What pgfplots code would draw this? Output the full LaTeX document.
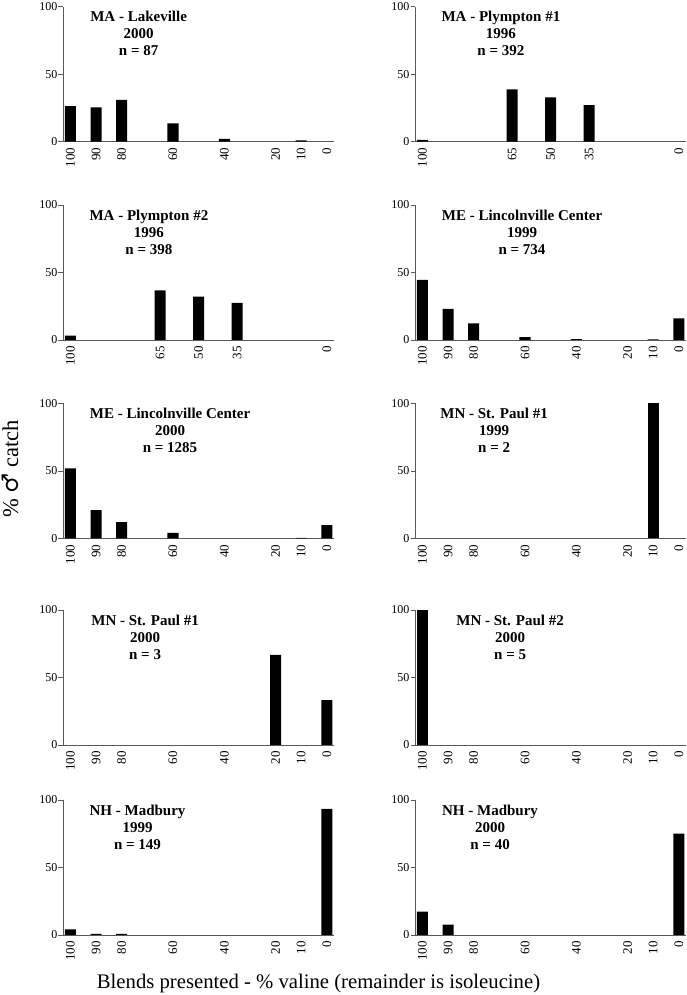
\documentclass[border=0pt]{standalone}
\usepackage{fontspec}
\setmainfont{Liberation Serif}
\newfontfamily\symfont{DejaVu Serif}
\usepackage{pgfplots}
\pgfplotsset{compat=1.18}
\tikzset{ttl/.style={anchor=north, align=center, font=\bfseries\fontsize{15}{17}\selectfont, inner sep=0pt, yshift=-4.5pt}}
\pgfplotsset{
 panel/.style={
  scale only axis, width=271pt, height=135pt, anchor=south west,
  xmin=-2.8, xmax=102.9, x dir=reverse, ymin=0, ymax=100,
  axis lines*=left, axis line style={draw=black!65, line width=0.9pt},
  ytick={0,50,100}, tick align=outside, major tick length=4.5pt,
  ytick style={draw=black!65, line width=0.7pt},
  xtick style={draw=none},
  xtick={100,90,80,60,40,20,10,0},
  xticklabel style={rotate=90, anchor=east, font=\fontsize{13}{13}\selectfont, inner sep=1.5pt},
  yticklabel style={font=\fontsize{12}{12}\selectfont, inner sep=1pt},
  /pgf/number format/assume math mode=true,
  ybar, bar width=4.3, clip=false,
 },
 bk/.style={fill=black, draw=none},
}
\begin{document}
\begin{tikzpicture}
\path[use as bounding box] (0pt,0pt) rectangle (687pt,995pt);
% Row 1
\begin{axis}[panel, at={(63pt,853.3pt)}]
\addplot[bk] coordinates {(100,26.4) (90,25.5) (80,30.9) (60,13.6) (40,2) (10,1)};
\node[ttl] at (axis description cs:0.279,1) {MA - Lakeville\\2000\\n = 87};
\end{axis}
\begin{axis}[panel, at={(415pt,853.3pt)}, xtick={100,65,50,35,0}]
\addplot[bk] coordinates {(100,1.3) (65,38.8) (50,32.9) (35,27)};
\node[ttl] at (axis description cs:0.317,1) {MA - Plympton \#1\\1996\\n = 392};
\end{axis}
% Row 2
\begin{axis}[panel, at={(63pt,655pt)}, xtick={100,65,50,35,0}]
\addplot[bk] coordinates {(100,3.2) (65,36.8) (50,32.1) (35,27.4)};
\node[ttl] at (axis description cs:0.317,1) {MA - Plympton \#2\\1996\\n = 398};
\end{axis}
\begin{axis}[panel, at={(415pt,655pt)}]
\addplot[bk] coordinates {(100,44.6) (90,23) (80,12.3) (60,2.2) (40,0.7) (10,0.5) (0,16)};
\node[ttl] at (axis description cs:0.395,1) {ME - Lincolnville Center\\1999\\n = 734};
\end{axis}
% Row 3
\begin{axis}[panel, at={(63pt,456.5pt)}]
\addplot[bk] coordinates {(100,51.9) (90,21) (80,12.1) (60,4.2) (10,0.5) (0,9.9)};
\node[ttl] at (axis description cs:0.395,1) {ME - Lincolnville Center\\2000\\n = 1285};
\end{axis}
\begin{axis}[panel, at={(415pt,456.5pt)}]
\addplot[bk] coordinates {(10,100)};
\node[ttl] at (axis description cs:0.292,1) {MN - St. Paul \#1\\1999\\n = 2};
\end{axis}
% Row 4
\begin{axis}[panel, at={(63pt,250pt)}]
\addplot[bk] coordinates {(20,66.7) (0,33.3)};
\node[ttl] at (axis description cs:0.303,1) {MN - St. Paul \#1\\2000\\n = 3};
\end{axis}
\begin{axis}[panel, at={(415pt,250pt)}]
\addplot[bk] coordinates {(100,100)};
\node[ttl] at (axis description cs:0.351,1) {MN - St. Paul \#2\\2000\\n = 5};
\end{axis}
% Row 5
\begin{axis}[panel, at={(63pt,60pt)}]
\addplot[bk] coordinates {(100,4.2) (90,0.8) (80,0.8) (0,93.5)};
\node[ttl] at (axis description cs:0.275,1) {NH - Madbury\\1999\\n = 149};
\end{axis}
\begin{axis}[panel, at={(415pt,60pt)}]
\addplot[bk] coordinates {(100,17.3) (90,7.6) (0,75.1)};
\node[ttl] at (axis description cs:0.277,1) {NH - Madbury\\2000\\n = 40};
\end{axis}
% axis titles
\node[rotate=90, anchor=base, font=\fontsize{22.5}{22.5}\selectfont] at (18pt,526pt) {\% {\symfont ♂} catch};
\node[anchor=base, font=\fontsize{20.7}{20.7}\selectfont] at (318.5pt,6pt) {Blends presented - \% valine (remainder is isoleucine)};
\end{tikzpicture}
\end{document}
